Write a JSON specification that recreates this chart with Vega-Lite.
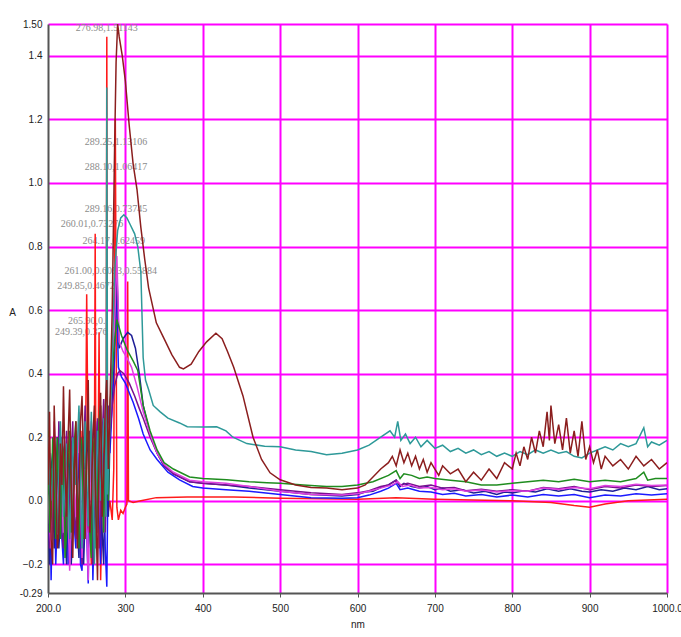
{
  "$schema": "https://vega.github.io/schema/vega-lite/v6.json",
  "width": 619,
  "height": 569,
  "autosize": {"type": "none"},
  "padding": {"left": 48, "top": 24, "right": 14, "bottom": 44},
  "background": "white",
  "config": {"view": {"stroke": null}},
  "datasets": {
    "spectra": [
      {"nm":200,"Maroon":0.05,"Teal":0.20,"Green":0.22,"Blue":-0.05,"Navy":0.0,"Purple":0.08,"Magenta":0.02,"Red":-0.02},
      {"nm":202,"Maroon":0.28,"Blue":0.15,"Purple":-0.15,"Green":-0.1,"Navy":-0.2},
      {"nm":204,"Maroon":-0.12,"Teal":0.0,"Green":-0.05,"Blue":-0.25,"Navy":0.10,"Purple":-0.10,"Magenta":-0.15,"Red":0.05},
      {"nm":206,"Maroon":-0.2,"Blue":0.0,"Purple":0.1,"Green":0.2,"Navy":0.15},
      {"nm":208,"Maroon":0.30,"Teal":0.15,"Green":0.10,"Blue":0.12,"Navy":-0.15,"Purple":0.20,"Magenta":0.25,"Red":-0.10},
      {"nm":210,"Maroon":0.1,"Blue":-0.2,"Purple":-0.1,"Green":-0.12,"Navy":0.05},
      {"nm":212,"Maroon":-0.15,"Teal":-0.10,"Green":0.20,"Blue":-0.05,"Navy":0.20,"Purple":-0.05,"Magenta":-0.05,"Red":0.15},
      {"nm":214,"Maroon":-0.1,"Blue":0.1,"Purple":0.25,"Green":0.05,"Navy":-0.15},
      {"nm":216,"Maroon":0.18,"Teal":0.25,"Green":-0.12,"Blue":0.18,"Navy":-0.05,"Purple":0.15,"Magenta":0.20,"Red":-0.05},
      {"nm":218,"Maroon":0.05,"Blue":-0.12,"Purple":-0.1,"Green":0.18,"Navy":0.2},
      {"nm":220,"Maroon":0.36,"Teal":-0.05,"Green":0.15,"Blue":-0.20,"Navy":0.15,"Purple":-0.15,"Magenta":-0.10,"Red":0.10},
      {"nm":222,"Maroon":0.1,"Blue":0.05,"Purple":0.1,"Green":-0.18,"Navy":-0.1},
      {"nm":224,"Maroon":-0.05,"Teal":0.18,"Green":-0.10,"Blue":0.10,"Navy":-0.20,"Purple":0.22,"Magenta":0.15,"Red":-0.15},
      {"nm":226,"Maroon":0.2,"Blue":-0.2,"Purple":-0.1,"Green":0.15,"Navy":0.15},
      {"nm":228,"Maroon":0.35,"Teal":-0.12,"Green":0.22,"Blue":-0.12,"Navy":0.10,"Purple":0.0,"Magenta":-0.22,"Red":0.20},
      {"nm":230,"Maroon":0.05,"Blue":0.12,"Purple":0.15,"Green":-0.1,"Navy":-0.2},
      {"nm":232,"Maroon":-0.18,"Teal":0.20,"Green":-0.05,"Blue":0.20,"Navy":-0.10,"Purple":0.25,"Magenta":0.10,"Red":-0.08},
      {"nm":234,"Maroon":0.1,"Blue":-0.08,"Purple":-0.05,"Green":0.18,"Navy":0.15},
      {"nm":236,"Maroon":0.25,"Teal":0.05,"Green":0.25,"Blue":-0.15,"Navy":0.22,"Purple":-0.12,"Magenta":-0.05,"Red":0.15},
      {"nm":238,"Maroon":-0.15,"Blue":0.05,"Purple":0.2,"Green":-0.05,"Navy":-0.08},
      {"nm":240,"Maroon":0.02,"Teal":0.30,"Green":-0.15,"Blue":0.15,"Navy":-0.18,"Purple":0.18,"Magenta":0.28,"Red":-0.12},
      {"nm":242,"Maroon":0.25,"Blue":-0.2,"Purple":-0.1,"Green":0.2,"Navy":0.2},
      {"nm":244,"Maroon":0.33,"Teal":-0.15,"Green":0.18,"Blue":-0.22,"Navy":0.15,"Purple":-0.20,"Magenta":-0.18,"Red":0.22},
      {"nm":246,"Maroon":0.1,"Blue":0.05,"Purple":0.15,"Green":-0.12,"Navy":-0.2},
      {"nm":248,"Maroon":-0.12,"Teal":0.25,"Green":0.0,"Blue":0.12,"Navy":-0.05,"Purple":0.30,"Magenta":0.10,"Red":-0.05},
      {"nm":250,"Maroon":0.15,"Blue":-0.1,"Purple":-0.05,"Green":0.2,"Navy":0.15,"Red":0.65},
      {"nm":252,"Maroon":0.38,"Teal":-0.08,"Green":0.28,"Blue":-0.26,"Navy":0.20,"Purple":-0.10,"Magenta":-0.25,"Red":0.10},
      {"nm":254,"Maroon":-0.1,"Blue":0.2,"Purple":0.22,"Green":-0.1,"Navy":-0.12},
      {"nm":256,"Maroon":0.0,"Teal":0.28,"Green":-0.18,"Blue":0.10,"Navy":-0.15,"Purple":0.20,"Magenta":0.25,"Red":-0.20},
      {"nm":258,"Maroon":0.2,"Blue":-0.25,"Purple":-0.2,"Green":0.15,"Navy":0.2},
      {"nm":260,"Maroon":0.30,"Teal":-0.20,"Green":0.20,"Blue":-0.05,"Navy":0.25,"Purple":-0.15,"Magenta":0.05,"Red":0.15},
      {"nm":261,"Red":0.84},
      {"nm":262,"Maroon":-0.05,"Blue":0.15,"Purple":0.15,"Green":-0.15,"Navy":-0.05,"Red":-0.10},
      {"nm":264,"Maroon":-0.25,"Teal":0.22,"Green":0.05,"Blue":0.25,"Navy":-0.10,"Purple":0.26,"Magenta":-0.20,"Red":-0.10},
      {"nm":266,"Maroon":0.15,"Blue":-0.05,"Purple":-0.15,"Green":0.25,"Navy":0.2,"Red":0.53},
      {"nm":268,"Maroon":0.34,"Teal":0.0,"Green":0.30,"Blue":-0.20,"Navy":0.18,"Purple":-0.08,"Magenta":0.30,"Red":-0.25},
      {"nm":270,"Maroon":-0.05,"Blue":0.1,"Purple":0.2,"Green":0.05,"Navy":-0.1},
      {"nm":272,"Maroon":0.08,"Teal":0.26,"Green":-0.10,"Blue":0.15,"Navy":-0.20,"Purple":0.32,"Magenta":-0.10,"Red":0.20},
      {"nm":274,"Maroon":0.3,"Blue":-0.15,"Purple":-0.1,"Green":0.2,"Navy":0.15},
      {"nm":275,"Teal":-0.05,"Red":0.0},
      {"nm":276,"Maroon":0.38,"Teal":1.30,"Green":0.25,"Blue":-0.27,"Navy":0.28,"Purple":0.10,"Magenta":0.20,"Red":1.46},
      {"nm":277,"Teal":0.02,"Red":-0.05},
      {"nm":278,"Maroon":0.1,"Blue":0.2,"Purple":0.3,"Green":0.0,"Navy":-0.05},
      {"nm":280,"Maroon":0.30,"Teal":0.25,"Green":0.30,"Blue":0.15,"Navy":0.20,"Purple":0.20,"Magenta":0.25,"Red":0.0},
      {"nm":283,"Maroon":0.60,"Teal":0.45,"Green":0.40,"Blue":0.30,"Navy":0.35,"Purple":0.30,"Magenta":0.40,"Red":-0.06},
      {"nm":285,"Red":0.10},
      {"nm":286,"Maroon":1.10,"Teal":0.72,"Green":0.50,"Blue":0.45,"Navy":0.50,"Purple":0.36,"Magenta":0.55},
      {"nm":287,"Red":1.20},
      {"nm":288,"Maroon":1.38,"Blue":0.70},
      {"nm":289,"Green":0.57,"Navy":0.72,"Magenta":0.77,"Red":-0.02},
      {"nm":290,"Maroon":1.50,"Teal":0.85,"Purple":0.40},
      {"nm":291,"Blue":0.42,"Red":-0.06},
      {"nm":292,"Maroon":1.46,"Navy":0.48,"Magenta":0.50},
      {"nm":293,"Purple":0.41},
      {"nm":294,"Teal":0.89,"Red":-0.03},
      {"nm":295,"Green":0.52,"Blue":0.39},
      {"nm":296,"Maroon":1.40},
      {"nm":297,"Navy":0.51,"Magenta":0.47,"Red":-0.04},
      {"nm":298,"Teal":0.90,"Purple":0.40},
      {"nm":300,"Maroon":1.32,"Blue":0.37,"Red":-0.02},
      {"nm":302,"Teal":0.89,"Green":0.476,"Magenta":0.45,"Red":-0.01},
      {"nm":303,"Navy":0.53,"Red":0.69},
      {"nm":304,"Red":0.0},
      {"nm":305,"Maroon":1.18,"Blue":0.34,"Purple":0.37},
      {"nm":306,"Teal":0.87},
      {"nm":308,"Navy":0.52,"Magenta":0.42},
      {"nm":310,"Maroon":1.06,"Green":0.44,"Blue":0.31,"Red":-0.005},
      {"nm":312,"Teal":0.84,"Purple":0.33},
      {"nm":313,"Navy":0.48},
      {"nm":315,"Maroon":0.98,"Magenta":0.36},
      {"nm":316,"Teal":0.80,"Green":0.41},
      {"nm":317,"Blue":0.26},
      {"nm":318,"Navy":0.40,"Purple":0.29},
      {"nm":320,"Maroon":0.86,"Teal":0.72,"Red":0.0},
      {"nm":323,"Teal":0.45,"Green":0.30,"Blue":0.21,"Navy":0.30,"Purple":0.26,"Magenta":0.28},
      {"nm":325,"Maroon":0.76},
      {"nm":326,"Teal":0.38},
      {"nm":330,"Maroon":0.67,"Teal":0.35},
      {"nm":332,"Green":0.22,"Blue":0.16,"Navy":0.21,"Purple":0.20,"Magenta":0.21},
      {"nm":336,"Teal":0.30},
      {"nm":340,"Maroon":0.56,"Red":0.01},
      {"nm":341,"Green":0.16,"Blue":0.13,"Navy":0.15,"Purple":0.15,"Magenta":0.15},
      {"nm":345,"Teal":0.28},
      {"nm":350,"Maroon":0.51,"Green":0.12,"Navy":0.11,"Purple":0.11,"Magenta":0.115},
      {"nm":355,"Teal":0.26,"Blue":0.09},
      {"nm":360,"Maroon":0.46},
      {"nm":362,"Green":0.10,"Navy":0.085,"Purple":0.085,"Magenta":0.09},
      {"nm":370,"Maroon":0.42,"Teal":0.245,"Blue":0.066},
      {"nm":375,"Maroon":0.415},
      {"nm":380,"Teal":0.233,"Red":0.012},
      {"nm":383,"Green":0.075,"Navy":0.06,"Purple":0.06,"Magenta":0.065},
      {"nm":385,"Maroon":0.43},
      {"nm":387,"Blue":0.045},
      {"nm":395,"Maroon":0.47},
      {"nm":400,"Teal":0.232,"Green":0.07,"Blue":0.04,"Navy":0.055,"Purple":0.055,"Magenta":0.06},
      {"nm":405,"Maroon":0.50},
      {"nm":417,"Maroon":0.527},
      {"nm":418,"Teal":0.233},
      {"nm":425,"Maroon":0.51},
      {"nm":430,"Teal":0.22,"Blue":0.035,"Navy":0.05,"Purple":0.05,"Magenta":0.055},
      {"nm":431,"Green":0.066},
      {"nm":432,"Maroon":0.47},
      {"nm":439,"Teal":0.20},
      {"nm":440,"Maroon":0.42,"Red":0.012},
      {"nm":452,"Maroon":0.33},
      {"nm":457,"Teal":0.18},
      {"nm":460,"Green":0.06,"Blue":0.03,"Navy":0.04,"Purple":0.045,"Magenta":0.045},
      {"nm":465,"Maroon":0.20},
      {"nm":476,"Maroon":0.13},
      {"nm":480,"Teal":0.172},
      {"nm":483,"Green":0.057},
      {"nm":487,"Maroon":0.088},
      {"nm":500,"Maroon":0.066,"Teal":0.17,"Green":0.055,"Blue":0.02,"Navy":0.03,"Purple":0.035,"Magenta":0.03,"Red":0.008},
      {"nm":520,"Maroon":0.05,"Teal":0.16},
      {"nm":530,"Green":0.05},
      {"nm":540,"Maroon":0.042,"Teal":0.155,"Blue":0.01,"Navy":0.02,"Purple":0.025,"Magenta":0.02},
      {"nm":560,"Maroon":0.04,"Teal":0.145,"Green":0.045},
      {"nm":580,"Maroon":0.035,"Teal":0.15,"Green":0.045,"Blue":0.008,"Navy":0.015,"Purple":0.02,"Magenta":0.018},
      {"nm":600,"Maroon":0.04,"Teal":0.16,"Green":0.05,"Blue":0.01,"Navy":0.02,"Purple":0.025,"Magenta":0.022,"Red":0.005},
      {"nm":610,"Maroon":0.05,"Navy":0.028},
      {"nm":615,"Teal":0.175,"Blue":0.018,"Purple":0.032,"Magenta":0.03},
      {"nm":620,"Maroon":0.075,"Green":0.06,"Navy":0.03},
      {"nm":630,"Maroon":0.10,"Teal":0.20,"Blue":0.03,"Navy":0.042,"Purple":0.045,"Magenta":0.04},
      {"nm":640,"Maroon":0.12,"Green":0.08,"Blue":0.04,"Navy":0.05,"Purple":0.05},
      {"nm":642,"Teal":0.22},
      {"nm":645,"Maroon":0.14,"Magenta":0.05},
      {"nm":648,"Teal":0.20},
      {"nm":650,"Maroon":0.11,"Green":0.095,"Blue":0.055,"Navy":0.065,"Purple":0.065,"Red":0.01},
      {"nm":652,"Teal":0.25,"Magenta":0.06},
      {"nm":655,"Maroon":0.16,"Green":0.07,"Blue":0.035,"Navy":0.045,"Purple":0.05},
      {"nm":656,"Teal":0.19},
      {"nm":658,"Magenta":0.045},
      {"nm":660,"Maroon":0.12,"Green":0.085,"Navy":0.055},
      {"nm":662,"Teal":0.21},
      {"nm":665,"Maroon":0.15,"Blue":0.04,"Purple":0.055},
      {"nm":668,"Teal":0.18,"Magenta":0.05},
      {"nm":670,"Maroon":0.11,"Green":0.08,"Navy":0.045},
      {"nm":675,"Maroon":0.14,"Teal":0.20},
      {"nm":680,"Maroon":0.10,"Green":0.07,"Blue":0.03,"Navy":0.04,"Purple":0.045,"Magenta":0.04},
      {"nm":682,"Teal":0.17},
      {"nm":685,"Maroon":0.13},
      {"nm":690,"Maroon":0.09,"Teal":0.19,"Green":0.075,"Navy":0.045},
      {"nm":695,"Maroon":0.12,"Blue":0.028,"Purple":0.05,"Magenta":0.042},
      {"nm":700,"Maroon":0.10,"Teal":0.165,"Green":0.07,"Navy":0.035,"Red":0.005},
      {"nm":705,"Maroon":0.08},
      {"nm":710,"Maroon":0.11,"Teal":0.175,"Blue":0.02,"Navy":0.04,"Purple":0.04,"Magenta":0.035},
      {"nm":720,"Maroon":0.085,"Teal":0.155,"Green":0.065,"Navy":0.03},
      {"nm":725,"Blue":0.024,"Purple":0.042,"Magenta":0.038},
      {"nm":730,"Maroon":0.10,"Teal":0.165},
      {"nm":735,"Navy":0.035},
      {"nm":740,"Maroon":0.06,"Teal":0.15,"Green":0.06,"Blue":0.015,"Purple":0.032,"Magenta":0.03},
      {"nm":750,"Maroon":0.09,"Teal":0.16,"Navy":0.025},
      {"nm":760,"Maroon":0.065,"Teal":0.145,"Green":0.05,"Blue":0.02,"Purple":0.036,"Magenta":0.034},
      {"nm":765,"Navy":0.03},
      {"nm":770,"Maroon":0.10,"Teal":0.155},
      {"nm":780,"Maroon":0.07,"Teal":0.14,"Green":0.05,"Blue":0.012,"Navy":0.02,"Purple":0.03,"Magenta":0.028},
      {"nm":790,"Maroon":0.12,"Teal":0.15,"Navy":0.028},
      {"nm":800,"Maroon":0.10,"Teal":0.14,"Green":0.055,"Blue":0.018,"Navy":0.025,"Purple":0.035,"Magenta":0.032,"Red":0.0},
      {"nm":805,"Maroon":0.15},
      {"nm":810,"Maroon":0.11,"Teal":0.155},
      {"nm":815,"Maroon":0.17,"Navy":0.032},
      {"nm":820,"Maroon":0.13,"Teal":0.145,"Green":0.06,"Blue":0.012,"Purple":0.03,"Magenta":0.03},
      {"nm":825,"Maroon":0.20},
      {"nm":830,"Maroon":0.15,"Teal":0.16,"Navy":0.028},
      {"nm":835,"Maroon":0.22},
      {"nm":840,"Maroon":0.17,"Teal":0.15,"Green":0.065,"Blue":0.02,"Purple":0.042,"Magenta":0.04},
      {"nm":845,"Maroon":0.28,"Navy":0.038},
      {"nm":848,"Maroon":0.19},
      {"nm":850,"Maroon":0.30,"Teal":0.16,"Red":-0.005},
      {"nm":855,"Maroon":0.18},
      {"nm":860,"Maroon":0.24,"Teal":0.15,"Green":0.06,"Blue":0.015,"Navy":0.03,"Purple":0.038,"Magenta":0.036},
      {"nm":865,"Maroon":0.16},
      {"nm":870,"Maroon":0.26,"Teal":0.155},
      {"nm":875,"Maroon":0.15,"Navy":0.038},
      {"nm":880,"Maroon":0.22,"Teal":0.14,"Green":0.068,"Blue":0.02,"Purple":0.045,"Magenta":0.042,"Red":-0.015},
      {"nm":885,"Maroon":0.14},
      {"nm":890,"Maroon":0.25,"Teal":0.135,"Navy":0.03},
      {"nm":895,"Maroon":0.13},
      {"nm":900,"Maroon":0.17,"Teal":0.15,"Green":0.06,"Blue":0.01,"Navy":0.028,"Purple":0.035,"Magenta":0.038,"Red":-0.02},
      {"nm":905,"Maroon":0.12},
      {"nm":910,"Maroon":0.16,"Teal":0.16},
      {"nm":915,"Maroon":0.10,"Navy":0.035},
      {"nm":920,"Maroon":0.14,"Teal":0.17,"Green":0.065,"Blue":0.018,"Purple":0.045,"Magenta":0.048,"Red":-0.01},
      {"nm":930,"Maroon":0.11,"Teal":0.16,"Navy":0.03},
      {"nm":940,"Maroon":0.13,"Teal":0.18,"Green":0.06,"Blue":0.015,"Purple":0.04,"Magenta":0.045},
      {"nm":945,"Navy":0.04},
      {"nm":950,"Maroon":0.10,"Teal":0.17,"Red":0.0},
      {"nm":960,"Maroon":0.14,"Teal":0.18,"Green":0.07,"Blue":0.022,"Navy":0.035,"Purple":0.05,"Magenta":0.052},
      {"nm":970,"Maroon":0.11,"Teal":0.23,"Green":0.09},
      {"nm":975,"Teal":0.17,"Green":0.065,"Navy":0.045},
      {"nm":980,"Maroon":0.13,"Teal":0.185,"Blue":0.018,"Purple":0.045,"Magenta":0.048},
      {"nm":985,"Green":0.07},
      {"nm":990,"Maroon":0.10,"Teal":0.175,"Navy":0.035},
      {"nm":1000,"Maroon":0.12,"Teal":0.19,"Green":0.07,"Blue":0.022,"Navy":0.038,"Purple":0.048,"Magenta":0.05,"Red":0.005}
    ],
    "labels": [
      {"nm":276,"A":1.486,"t":"276.98,1.51143"},
      {"nm":288,"A":1.129,"t":"289.25,1.13106"},
      {"nm":288,"A":1.05,"t":"288.10,1.06417"},
      {"nm":288,"A":0.918,"t":"289.16,0.73745"},
      {"nm":257,"A":0.871,"t":"260.01,0.73276"},
      {"nm":285,"A":0.817,"t":"264.17,0.62459"},
      {"nm":281,"A":0.722,"t":"261.00,0.6093,0.55884"},
      {"nm":249,"A":0.675,"t":"249.85,0.4672"},
      {"nm":250,"A":0.565,"t":"265.90,0."},
      {"nm":243,"A":0.53,"t":"249.39,0.376"}
    ]
  },
  "layer": [
    {
      "data": {"name": "labels"},
      "mark": {"type": "text", "font": "Liberation Serif", "fontSize": 10, "color": "#8c8c8c", "align": "center", "baseline": "middle"},
      "encoding": {
        "x": {"field": "nm", "type": "quantitative"},
        "y": {"field": "A", "type": "quantitative"},
        "text": {"field": "t", "type": "nominal"}
      }
    },
    {
      "data": {"name": "spectra"},
      "transform": [
        {"fold": ["Red", "Blue", "Navy", "Purple", "Magenta", "Green", "Teal", "Maroon"], "as": ["s", "A"]},
        {"filter": "isValid(datum.A)"}
      ],
      "mark": {"type": "line", "strokeWidth": 1.5, "clip": true},
      "encoding": {
        "x": {
          "field": "nm", "type": "quantitative",
          "scale": {"domain": [200, 1000], "nice": false, "zero": false},
          "axis": {
            "values": [200, 300, 400, 500, 600, 700, 800, 900, 1000],
            "labelExpr": "datum.value == 200 ? '200.0' : datum.value == 1000 ? '1000.0' : datum.label",
            "title": "nm",
            "grid": true, "gridColor": "#ff00ff", "gridWidth": 2,
            "gridOpacity": {"condition": {"test": "datum.value == 200", "value": 0}, "value": 1},
            "domainColor": "#555555", "domainWidth": 2,
            "tickColor": "#555555", "tickSize": 4, "tickWidth": 1,
            "labelFont": "Liberation Sans Narrow, Liberation Sans", "labelFontSize": 10, "labelColor": "#222222",
            "labelPadding": 6, "labelFlush": false, "labelOverlap": false,
            "titleFont": "Liberation Sans", "titleFontSize": 10, "titleFontWeight": "normal", "titleColor": "#222222", "titlePadding": 6
          }
        },
        "y": {
          "field": "A", "type": "quantitative",
          "scale": {"domain": [-0.29, 1.5], "nice": false, "zero": false},
          "axis": {
            "values": [-0.29, -0.2, 0, 0.2, 0.4, 0.6, 0.8, 1, 1.2, 1.4, 1.5],
            "labelExpr": "datum.value > 1.45 ? '1.50' : datum.value < -0.25 ? '-0.29' : format(datum.value, '.1f')",
            "title": "A",
            "grid": true, "gridColor": "#ff00ff", "gridWidth": 2,
            "gridOpacity": {"condition": {"test": "datum.value < -0.25", "value": 0}, "value": 1},
            "ticks": false,
            "domainColor": "#555555", "domainWidth": 2,
            "labelFont": "Liberation Sans Narrow, Liberation Sans", "labelFontSize": 10, "labelColor": "#222222",
            "labelPadding": 6, "labelFlush": false, "labelOverlap": false,
            "titleFont": "Liberation Sans", "titleFontSize": 10, "titleFontWeight": "normal", "titleColor": "#222222",
            "titleAngle": 0, "titleAlign": "center", "titleBaseline": "middle", "titleX": -36, "titleY": 288
          }
        },
        "color": {
          "field": "s", "type": "nominal", "legend": null,
          "scale": {
            "domain": ["Red", "Blue", "Navy", "Purple", "Magenta", "Green", "Teal", "Maroon"],
            "range": ["#ff1a1a", "#1a1aff", "#1e1e96", "#7a1090", "#e040e0", "#1f8c1f", "#2e9999", "#8b1e1e"]
          }
        }
      }
    }
  ]
}
